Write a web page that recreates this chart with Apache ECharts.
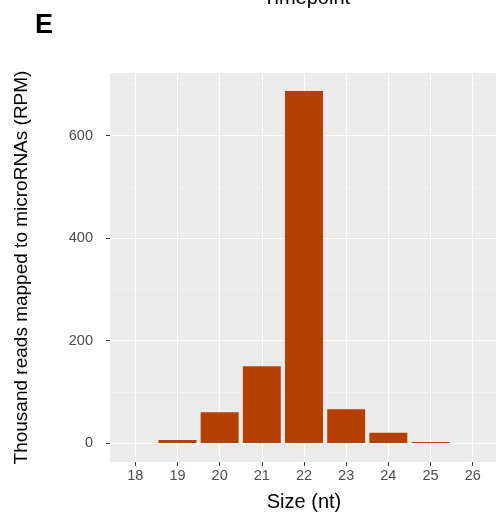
<!DOCTYPE html>
<html><head><meta charset="utf-8">
<script src="https://cdn.jsdelivr.net/npm/echarts@6/dist/echarts.min.js"></script>
<style>html,body{margin:0;padding:0;background:#fff}#c{width:496px;height:513px}</style>
</head><body><div id="c"></div>
<script>
const sizes = [18, 19, 20, 21, 22, 23, 24, 25, 26];
const reads = [0, 6, 60, 150, 687, 66, 20, 2, 0];
const yTicks = [0, 200, 400, 600];
const yMinor = [100, 300, 500, 700];

const FONT = '"Liberation Sans", Arial, sans-serif';
const chart = echarts.init(document.getElementById('c'));
chart.setOption({
  animation: false,
  graphic: [
    {type: 'text', left: 35, top: 12, style: {text: 'E', font: 'bold 27px ' + FONT, fill: '#000'}},
    {type: 'text', left: 263, top: -12, style: {text: 'Timepoint', font: '20px ' + FONT, fill: '#000'}}
  ],
  grid: {left: 110, right: -2, top: 73, bottom: 51, backgroundColor: '#EBEBEB', show: true, borderWidth: 0,
    outerBoundsMode: 'none', containLabel: false},
  xAxis: [{
    type: 'value', min: 17.4, max: 26.6,
    axisLine: {show: false, onZero: false},
    axisTick: {show: true, length: 4, lineStyle: {color: '#333', width: 1}, customValues: sizes},
    axisLabel: {fontSize: 14.5, color: '#4D4D4D', margin: 6, fontFamily: FONT, customValues: sizes},
    splitLine: {show: false},
    name: 'Size (nt)', nameLocation: 'middle', nameGap: 30,
    nameTextStyle: {fontSize: 20, color: '#000', fontFamily: FONT}
  }],
  yAxis: [{
    type: 'value', min: -37, max: 722,
    axisLine: {show: false},
    axisTick: {show: true, length: 4, lineStyle: {color: '#333'}, customValues: yTicks},
    axisLabel: {fontSize: 14.5, color: '#4D4D4D', margin: 17, customValues: yTicks, fontFamily: FONT},
    splitLine: {show: false},
    name: 'Thousand reads mapped to microRNAs (RPM)', nameLocation: 'middle', nameGap: 79,
    nameTextStyle: {fontSize: 19, color: '#000', fontFamily: FONT}
  }],
  series: [
    {
      type: 'bar', data: sizes.map((s, i) => [s, reads[i]]), barWidth: '90%',
      itemStyle: {color: '#B54000'}, z: 5
    },
    {
      type: 'line', data: [], silent: true,
      markLine: {
        silent: true, symbol: 'none', label: {show: false}, animation: false,
        data: yTicks.map(v => ({yAxis: v, lineStyle: {color: '#fff', width: 1.1, type: 'solid'}}))
          .concat(yMinor.map(v => ({yAxis: v, lineStyle: {color: '#F5F5F5', width: 0.6, type: 'solid'}})))
          .concat(sizes.map(v => ({xAxis: v, lineStyle: {color: '#fff', width: 1.1, type: 'solid'}})))
      }, z: 1
    }
  ]
});
</script></body></html>
